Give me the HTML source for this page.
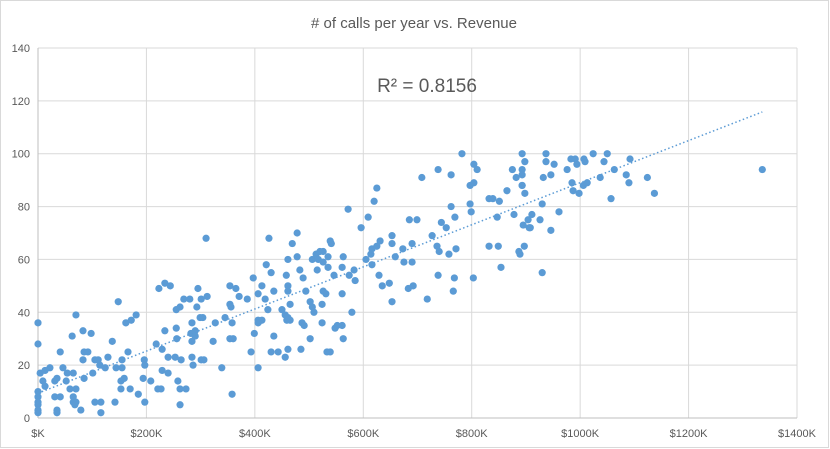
<!DOCTYPE html>
<html><head><meta charset="utf-8"><style>
html,body{margin:0;padding:0;background:#fff;}
svg{display:block;font-family:"Liberation Sans",sans-serif;}
</style></head><body>
<svg id="chart" width="830" height="449" viewBox="0 0 830 449">
<rect x="0.5" y="0.5" width="828" height="447" fill="#fff" stroke="#d9d9d9"/>
<text x="414" y="28" text-anchor="middle" font-size="15" fill="#595959"># of calls per year vs. Revenue</text>
<g id="grid"></g>
<g id="axes"></g>
<g id="trend"></g>
<g id="pts"></g>
<text x="427" y="92" text-anchor="middle" font-size="19" fill="#595959">R² = 0.8156</text>
</svg>
<script>
const xTicks=[0,200,400,600,800,1000,1200,1400];
const xTickLabels=["$K","$200K","$400K","$600K","$800K","$1000K","$1200K","$1400K"];
const yTicks=[0,20,40,60,80,100,120,140];
const revenueK=[0,0,0,0,0,0,0,0,4,9,13,22,13,31,35,31,41,35,35,41,46,54,52,59,65,70,65,65,70,68,79,70,63,83,98,85,92,83,85,101,105,111,114,124,129,137,105,116,116,142,148,144,155,155,166,153,159,153,170,185,194,196,197,197,208,162,172,181,218,229,229,221,227,240,258,262,273,262,223,234,244,234,255,256,255,262,269,280,240,253,264,284,282,290,290,284,284,286,295,293,301,312,299,304,301,306,323,327,339,345,
310,358,354,365,354,356,371,386,354,360,358,397,406,413,421,430,426,435,419,424,406,413,406,399,435,393,406,430,443,456,461,485,533,502,450,456,461,465,459,465,461,461,458,461,469,478,478,483,489,494,502,506,509,487,491,524,524,526,531,535,546,506,513,520,526,517,526,535,515,539,541,548,552,
625,620,572,609,596,563,561,574,583,585,561,579,561,563,539,605,616,614,616,625,631,629,635,648,653,653,653,659,673,675,690,690,685,699,683,692,718,727,736,740,758,771,744,753,762,769,738,768,766,797,804,797,799,803,832,839,851,832,849,854,847,865,878,893,898,895,904,906,887,897,
893,898,893,893,937,937,952,932,946,930,911,908,926,961,946,889,930,983,991,1007,1024,1050,1044,1009,994,976,985,987,998,1006,1013,1037,1063,1057,1085,1090,1092,1124,1137,1336,
782,738,708,762,804,810,875,882,893];
const callsPerYear=[36,28,10,8,6,5,3,2,17,14,18,19,12,14,15,8,8,3,2,25,19,17,14,11,17,11,8,6,6,5,3,39,31,33,32,25,25,22,15,17,22,22,20,19,23,29,6,6,2,6,44,19,19,22,25,14,15,11,11,9,15,22,20,6,14,36,37,39,28,26,18,11,11,17,14,11,11,5,49,51,50,33,34,30,41,42,45,45,23,23,22,36,32,33,31,29,23,20,49,42,45,46,38,38,22,22,29,36,19,38,
68,36,50,49,43,42,46,45,30,30,9,53,47,50,58,55,68,48,45,41,37,37,36,32,31,25,19,25,25,23,26,26,25,30,41,39,38,37,37,43,48,50,54,60,66,70,61,56,53,48,44,42,40,36,35,36,43,48,47,57,54,60,62,63,63,60,59,61,56,67,66,34,35,
87,82,79,76,72,61,57,54,56,52,47,40,35,30,25,60,58,62,64,65,67,54,50,51,44,69,66,61,64,59,59,66,75,75,49,50,45,69,65,63,62,64,74,72,80,76,54,53,48,88,89,81,78,53,83,83,82,65,65,57,76,86,77,88,85,73,75,72,63,65,
100,97,94,92,100,97,96,91,92,81,77,72,75,78,71,62,55,98,98,98,100,100,97,97,96,94,89,86,85,88,89,91,94,83,92,89,98,91,85,94,
100,94,91,92,96,94,94,91,88];

const L=38,R=797,T=48,B=418;
const xMin=0,xMax=1400,yMin=0,yMax=140;
const sx=v=>L+(v-xMin)/(xMax-xMin)*(R-L);
const sy=v=>B-(v-yMin)/(yMax-yMin)*(B-T);
const NS="http://www.w3.org/2000/svg";
function mk(tag,attrs,parent){const e=document.createElementNS(NS,tag);for(const k in attrs)e.setAttribute(k,attrs[k]);parent.appendChild(e);return e;}
const grid=document.getElementById('grid'),axes=document.getElementById('axes'),pts=document.getElementById('pts'),trend=document.getElementById('trend');
yTicks.forEach((t,i)=>{
  if(t>0){const g=mk('line',{x1:L,x2:R,y1:sy(t),y2:sy(t),stroke:'#d9d9d9','stroke-width':1},grid);
  
  }
  const lb=mk('text',{x:30,y:sy(t)+4,'text-anchor':'end','font-size':11,fill:'#595959'},axes);
  lb.textContent=String(t);
  
  
});
xTicks.forEach((t,i)=>{
  if(t>0){const g=mk('line',{x1:sx(t),x2:sx(t),y1:T,y2:B,stroke:'#d9d9d9','stroke-width':1},grid);
  
  }
  const lb=mk('text',{x:sx(t),y:437,'text-anchor':'middle','font-size':11,fill:'#595959'},axes);
  lb.textContent=xTickLabels[i];
  
  
});
const ya=mk('line',{x1:L,x2:L,y1:T,y2:B,stroke:'#bfbfbf','stroke-width':1},axes);


const xa=mk('line',{x1:L,x2:R,y1:B,y2:B,stroke:'#bfbfbf','stroke-width':1},axes);


// trendline via least squares
const n=revenueK.length;let mx=0,my=0;for(let i=0;i<n;i++){mx+=revenueK[i];my+=callsPerYear[i];}mx/=n;my/=n;
let sxy=0,sxx=0;for(let i=0;i<n;i++){sxy+=(revenueK[i]-mx)*(callsPerYear[i]-my);sxx+=(revenueK[i]-mx)**2;}
const slope=sxy/sxx,icpt=my-slope*mx;const xe=Math.max(...revenueK);
const tl=mk('line',{x1:sx(0),y1:sy(icpt),x2:sx(xe),y2:sy(icpt+slope*xe),stroke:'#5b9bd5','stroke-width':1.5,'stroke-dasharray':'1.5 2.5'},trend);


for(let i=0;i<n;i++){
  const c=mk('circle',{cx:sx(revenueK[i]),cy:sy(callsPerYear[i]),r:3.6,fill:'#5b9bd5'},pts);
  
  
}
</script>
</body></html>
